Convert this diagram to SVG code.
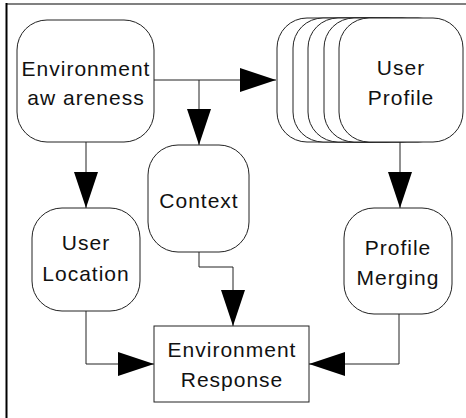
<svg xmlns="http://www.w3.org/2000/svg" width="466" height="418" viewBox="0 0 466 418">
<defs>
<style>
.n{fill:#fff;stroke:#222;stroke-width:1}
.t{font-family:"Liberation Sans",Arial,sans-serif;font-size:21px;letter-spacing:1px;fill:#111;text-anchor:middle}
.c{fill:none;stroke:#222;stroke-width:1}
</style>
<marker id="ah" markerUnits="userSpaceOnUse" markerWidth="36" markerHeight="24" refX="36" refY="12" orient="auto">
<path d="M0,0 L36,12 L0,24 z" fill="#000"/>
</marker>
</defs>
<rect width="466" height="418" fill="#fff"/>
<line x1="6" y1="4" x2="466" y2="4" stroke="#808080" stroke-width="2"/>
<line x1="6.5" y1="3" x2="6.5" y2="418" stroke="#000" stroke-width="2"/>
<g id="connectors">
<polyline class="c" points="154,80 276,80" marker-end="url(#ah)"/>
<polyline class="c" points="199,80 199,145" marker-end="url(#ah)"/>
<polyline class="c" points="86,142 86,208" marker-end="url(#ah)"/>
<polyline class="c" points="199,252 199,267 233,267 233,326" marker-end="url(#ah)"/>
<polyline class="c" points="86,311 86,364 154,364" marker-end="url(#ah)"/>
<polyline class="c" points="399,314 399,364 309,364" marker-end="url(#ah)"/>
<polyline class="c" points="400,142 400,208" marker-end="url(#ah)"/>
</g>
<g id="env-awareness">
<rect class="n" x="17" y="20" width="137" height="122" rx="30" ry="30"/>
<text class="t" x="86" y="76">Environment</text>
<text class="t" x="86" y="105">aw areness</text>
</g>
<g id="user-profile">
<rect class="n" x="277" y="18" width="124" height="124" rx="30" ry="30"/>
<rect class="n" x="293" y="18" width="124" height="124" rx="30" ry="30"/>
<rect class="n" x="308" y="18" width="124" height="124" rx="30" ry="30"/>
<rect class="n" x="324" y="18" width="124" height="124" rx="30" ry="30"/>
<rect class="n" x="339" y="18" width="124" height="124" rx="30" ry="30"/>
<text class="t" x="401" y="75">User</text>
<text class="t" x="401" y="105">Profile</text>
</g>
<g id="context">
<rect class="n" x="148" y="145" width="101" height="107" rx="30" ry="30"/>
<text class="t" x="199" y="208">Context</text>
</g>
<g id="user-location">
<rect class="n" x="32" y="208" width="108" height="103" rx="30" ry="30"/>
<text class="t" x="86" y="250">User</text>
<text class="t" x="86" y="281">Location</text>
</g>
<g id="profile-merging">
<rect class="n" x="344" y="208" width="108" height="106" rx="30" ry="30"/>
<text class="t" x="398" y="255">Profile</text>
<text class="t" x="398" y="285">Merging</text>
</g>
<g id="env-response">
<rect class="n" x="154" y="326" width="155" height="76"/>
<text class="t" x="232" y="357">Environment</text>
<text class="t" x="232" y="387">Response</text>
</g>
</svg>
